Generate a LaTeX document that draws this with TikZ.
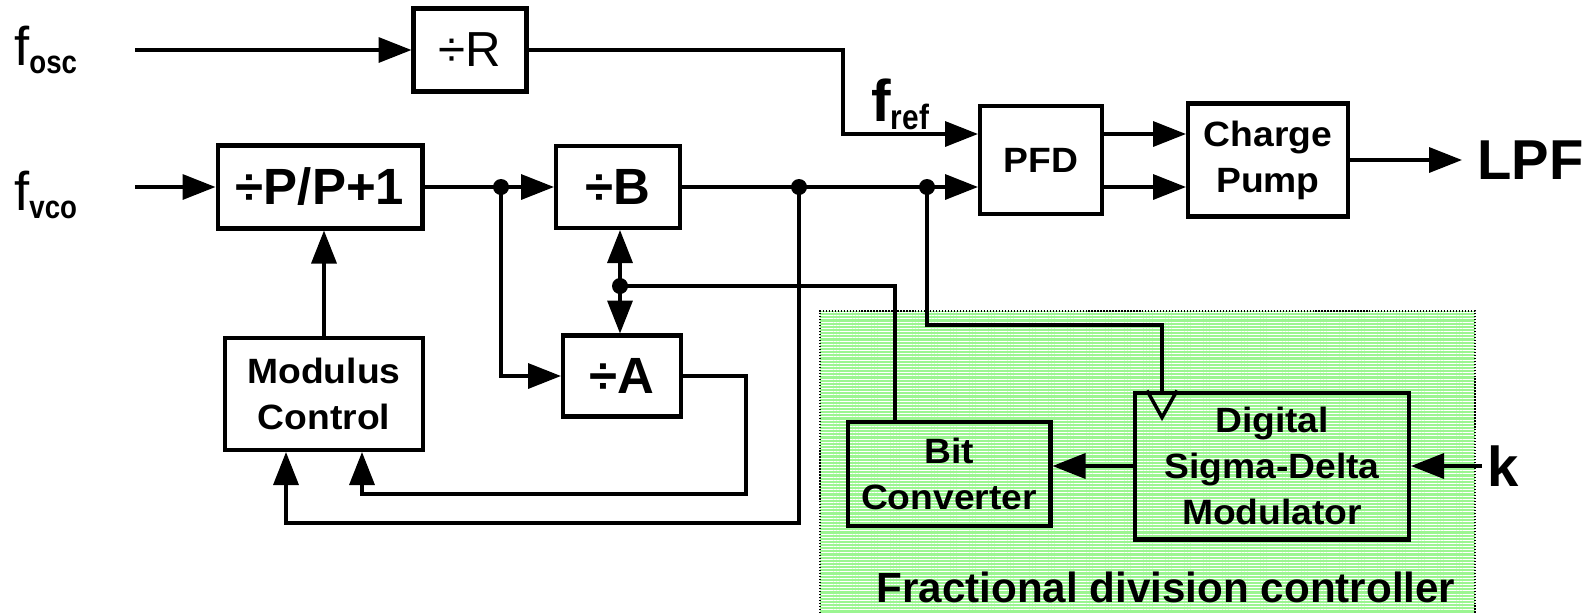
\documentclass[tikz,border=0pt]{standalone}
\usepackage{fontspec}
\setmainfont{Liberation Sans}
\newfontfamily\wideface[FakeStretch=1.06]{Liberation Sans}
\newfontfamily\narrowface[FakeStretch=0.85]{Liberation Sans}
\usetikzlibrary{arrows.meta,positioning,patterns.meta}
\definecolor{fdcgreen}{RGB}{155,245,145}
\newcommand{\boxfont}{\wideface\bfseries\fontsize{20}{26.2}\selectfont}
\newcommand{\divfont}{\bfseries\fontsize{29}{32}\selectfont}
\newcommand{\freq}[2]{{\fontsize{31}{34}\selectfont #1}\raisebox{-0.16cm}{\narrowface\bfseries\fontsize{18.5}{20}\selectfont #2}}
\tikzset{
  blk/.style={draw,line width=2.3pt,inner sep=0pt,align=center},
  wire/.style={line width=2pt},
  sig/.style={wire,-{Triangle[length=0.66cm,width=0.5cm]}},
  jdot/.style={circle,fill,inner sep=0pt,minimum size=0.32cm},
}

\begin{document}
\begin{tikzpicture}[x=0.02cm,y=-0.02cm]
  \fill[white] (0,0) rectangle (1592,613);
  \useasboundingbox (0,0) rectangle (1592,613);
  % fractional division controller
  \fill[fdcgreen] (820,311) rectangle (1475,613);
  \fill[pattern={Lines[angle=0,distance=1.8pt,line width=0.5pt]},pattern color=white] (820,311) rectangle (1475,613);
  \draw[densely dotted,line width=0.7pt] (820,613) -- (820,311) -- (1475,311) -- (1475,613);
  \node[anchor=base,inner sep=0pt,font=\bfseries\fontsize{24}{28}\selectfont] (fdc) at (1166,602) {Fractional division controller};

  % blocks
  \node[blk,minimum width=2.26cm,minimum height=1.66cm,font=\fontsize{28}{32}\selectfont] (divR) at (470,50) {÷R};
  \node[blk,minimum width=4.1cm,minimum height=1.66cm,font=\divfont] (divP) at (320,187) {÷P/P+1};
  \node[blk,minimum width=2.48cm,minimum height=1.64cm,font=\divfont] (divB) at (618,187) {÷B};
  \node[blk,minimum width=2.36cm,minimum height=1.62cm,font=\divfont] (divA) at (622,376) {÷A};
  \node[blk,minimum width=3.96cm,minimum height=2.24cm,font=\boxfont] (mod) at (324,394) {Modulus\\Control};
  \node[blk,minimum width=2.44cm,minimum height=2.16cm,font=\boxfont] (pfd) at (1041,160) {PFD};
  \node[blk,minimum width=3.2cm,minimum height=2.26cm,font=\boxfont] (cp) at (1268,160) {Charge\\Pump};
  \node[blk,minimum width=4.06cm,minimum height=2.08cm,font=\boxfont] (bit) at (949,474) {Bit\\Converter};
  \node[blk,minimum width=5.48cm,minimum height=2.94cm,font=\boxfont] (sdm) at (1272,466) {Digital\\Sigma-Delta\\Modulator};

  % labels
  \node[anchor=base west,inner sep=0pt] (fosc) at (14,65) {\freq{f}{osc}};
  \node[anchor=base west,inner sep=0pt] (fvco) at (14,210) {\freq{f}{vco}};
  \node[anchor=base west,inner sep=0pt,scale=1.08] (fref) at (871,121) {\freq{\bfseries f}{ref}};
  \node[anchor=west,inner xsep=0.3cm,inner ysep=0pt,font=\bfseries\fontsize{32}{34}\selectfont] (lpf) at (1462,160) {LPF};
  \node[anchor=west,inner xsep=0.1cm,inner ysep=0pt,font=\bfseries\fontsize{32}{34}\selectfont] (k) at (1482,466) {k};

  \coordinate (oscin) at (135,50);
  \coordinate (vcoin) at (135,187);
  \coordinate (up) at (843,134);
  \coordinate (jA) at (501,187);
  \coordinate (jB) at (799,187);
  \coordinate (jC) at (927,187);
  \coordinate (jD) at (620,286);
  \coordinate (bitc) at (895,286);
  \coordinate (clk) at (1162,325);
  \coordinate (aret) at (746,494);
  \coordinate (modB) at (362,494);
  \coordinate (modA) at (286,523);

  % reference path
  \draw[sig] (oscin) -- (divR);
  \draw[sig] (divR.east) -| (up) -- (up -| pfd.west);
  \draw[sig] (up -| pfd.east) -- (up -| cp.west);
  \draw[sig] (divB.east -| pfd.east) -- (divB.east -| cp.west);
  \draw[sig] (cp.east) -- (lpf.west);

  % divider path
  \draw[sig] (vcoin) -- (divP.west);
  \draw[sig] (divP.east) -- (divB.west);
  \draw[sig] (jA) |- (divA.west);
  \draw[sig] (divB.east) -- (divB.east -| pfd.west);
  \draw[sig] (jD) -- (jD |- divB.south);
  \draw[sig] (jD) -- (jD |- divA.north);
  \draw[wire] (jD) -- (bitc) -- (bitc |- bit.north);
  \draw[sig] (mod.north) -- (mod.north |- divP.south);
  \draw[sig] (divA.east) -| (aret) -- (modB) -- (modB |- mod.south);
  \draw[sig] (jB) |- (modA) -- (modA |- mod.south);

  % sigma-delta
  \draw[wire] (jC) |- (clk) -- (clk |- sdm.north);
  \draw[wire,line join=miter] (clk |- sdm.north) ++(-15,0) -- ++(15,27) -- ++(15,-27);
  \draw[sig] (sdm.west) -- (sdm.west -| bit.east);
  \draw[sig] (k.west) -- (k.west -| sdm.east);

  \foreach \j in {jA,jB,jC,jD}
    \node[jdot] at (\j) {};
\end{tikzpicture}
\end{document}
